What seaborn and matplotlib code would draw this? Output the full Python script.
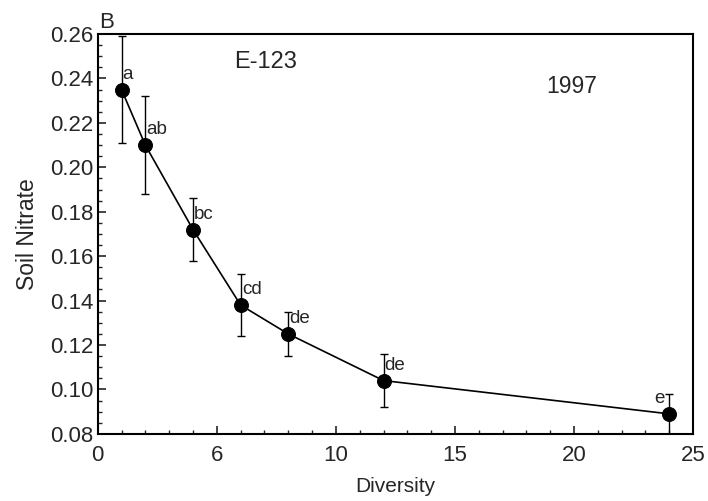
import numpy as np
import pandas as pd
import seaborn as sns
from matplotlib import pyplot as plt
from matplotlib.ticker import MultipleLocator

# values
diversity = [1, 2, 4, 6, 8, 12, 24]
nitrate = [0.235, 0.210, 0.172, 0.138, 0.125, 0.104, 0.089]
err_up = [0.024, 0.022, 0.014, 0.014, 0.010, 0.012, 0.009]
err_down = [0.024, 0.022, 0.014, 0.014, 0.010, 0.012, 0.010]
letters = ["a", "ab", "bc", "cd", "de", "de", "e"]
xtick_vals = [0, 5, 10, 15, 20, 25]
xtick_labels = ["0", "6", "10", "15", "20", "25"]

df = pd.DataFrame({"Diversity": diversity, "Soil Nitrate": nitrate})

sns.set_style("ticks")
plt.rcParams["font.family"] = ["Liberation Sans", "DejaVu Sans"]

fig = plt.figure(figsize=(7.08, 5.01), dpi=100)
ax = fig.add_axes([0.138, 0.134, 0.841, 0.798])

ax.errorbar(diversity, nitrate, yerr=[err_down, err_up], fmt="none",
            ecolor="black", elinewidth=1.0, capsize=3, capthick=1.0, zorder=2)
sns.lineplot(data=df, x="Diversity", y="Soil Nitrate", color="black",
             linewidth=1.2, marker="o", markersize=10, markeredgecolor="black",
             ax=ax, zorder=3)

# significance letters
for xv, yv, lab in zip(diversity, nitrate, letters):
    if lab == "e":
        ax.text(xv - 0.2, yv + 0.003, lab, fontsize=13.5, ha="right", va="bottom")
    else:
        ax.text(xv + 0.05, yv + 0.003, lab, fontsize=13.5, ha="left", va="bottom")

ax.text(7.05, 0.2472, "E-123", fontsize=17, ha="center", va="center")
ax.text(19.9, 0.2366, "1997", fontsize=16.5, ha="center", va="center")
ax.text(0.003, 1.003, "B", transform=ax.transAxes, fontsize=16, ha="left", va="bottom")

ax.set_xlim(0, 25)
ax.set_ylim(0.08, 0.26)
ax.set_xticks(xtick_vals)
ax.set_xticklabels(xtick_labels)
ax.set_yticks(np.arange(0.08, 0.261, 0.02))
ax.set_yticklabels([f"{v:.2f}" for v in np.arange(0.08, 0.261, 0.02)])
ax.xaxis.set_minor_locator(MultipleLocator(1))
ax.yaxis.set_minor_locator(MultipleLocator(0.005))
ax.tick_params(which="major", direction="in", length=6, width=1.2, labelsize=16)
ax.tick_params(axis="y", which="major", pad=3)
ax.tick_params(axis="x", which="major", pad=8)
ax.tick_params(which="minor", direction="in", length=3, width=1.0)
for s in ax.spines.values():
    s.set_linewidth(1.5)
    s.set_color("black")

ax.set_xlabel("Diversity", fontsize=15, labelpad=8)
ax.set_ylabel("Soil Nitrate", fontsize=16.5, labelpad=8)

plt.savefig("out.png", dpi=100)
